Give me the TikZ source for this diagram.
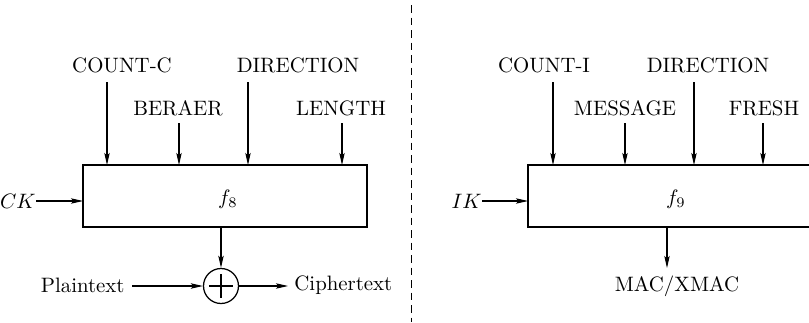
\documentclass[tikz,border=0pt]{standalone}
\usetikzlibrary{arrows.meta,calc}
\begin{document}
\begin{tikzpicture}[x=0.48pt,y=-0.48pt,
  blockbox/.style={draw,line width=1.1pt,minimum width=0pt},
  flow/.style={line width=0.5pt,-{Stealth[length=5.8pt,width=2.6pt,inset=1.2pt]}},
  lbl/.style={inner sep=0pt,font=\normalsize},
  divider/.style={line width=0.45pt,dash pattern=on 3.6pt off 2.4pt}]
\useasboundingbox (0,0) rectangle (809,323);
\clip (0,0) rectangle (809,323);

% ---- f8: confidentiality ----
\draw[blockbox] (83,165) rectangle (367,227);
\node[lbl] (f8) at (228,199) {$f_8$};

\node[lbl] (countc) at (122,65) {COUNT-C};
\node[lbl] (bearer) at (178,108) {BERAER};
\node[lbl] (dir8) at (298,65) {DIRECTION};
\node[lbl] (length) at (341,108) {LENGTH};

\coordinate (a1s) at (107,82);  \coordinate (a1e) at (107,165);
\coordinate (a2s) at (179,123); \coordinate (a2e) at (179,165);
\coordinate (a3s) at (248,82);  \coordinate (a3e) at (248,165);
\coordinate (a4s) at (342,123); \coordinate (a4e) at (342,165);
\draw[flow] (a1s) -- (a1e);
\draw[flow] (a2s) -- (a2e);
\draw[flow] (a3s) -- (a3e);
\draw[flow] (a4s) -- (a4e);

\node[lbl,anchor=east] (ck) at (36,201) {$CK$};
\coordinate (ckend) at (83,201);
\draw[flow] (ck.east) -- (ckend);

% keystream XOR
\node[draw,circle,line width=0.6pt,minimum size=35*0.48pt,inner sep=0pt] (xor) at (221,286) {};
\draw[line width=0.6pt] ($(xor.center)+(-12,0)$) -- ($(xor.center)+(12,0)$);
\draw[line width=0.6pt] ($(xor.center)+(0,-12)$) -- ($(xor.center)+(0,12)$);
\coordinate (ksout) at (221,227);
\draw[flow] (ksout) -- (xor.north);

\node[lbl,anchor=east] (plain) at (125,285) {Plaintext};
\node[lbl,anchor=west] (cipher) at (294,285) {Ciphertext};
\coordinate (plainend) at (132,286);
\coordinate (cipherstart) at (288,286);
\draw[flow] (plainend) -- (xor.west);
\draw[flow] (xor.east) -- (cipherstart);

% ---- separator ----
\coordinate (dtop) at (411,5);
\coordinate (dbot) at (411,322);
\draw[divider] (dtop) -- (dbot);

% ---- f9: integrity ----
\draw[blockbox] (528,165) rectangle (860,227);
\node[lbl] (f9) at (676,199) {$f_9$};

\node[lbl] (counti) at (544,65) {COUNT-I};
\node[lbl] (message) at (625,108) {MESSAGE};
\node[lbl] (dir9) at (708,65) {DIRECTION};
\node[lbl] (fresh) at (764,108) {FRESH};

\coordinate (b1s) at (553,82);  \coordinate (b1e) at (553,165);
\coordinate (b2s) at (625,123); \coordinate (b2e) at (625,165);
\coordinate (b3s) at (694,82);  \coordinate (b3e) at (694,165);
\coordinate (b4s) at (763,123); \coordinate (b4e) at (763,165);
\draw[flow] (b1s) -- (b1e);
\draw[flow] (b2s) -- (b2e);
\draw[flow] (b3s) -- (b3e);
\draw[flow] (b4s) -- (b4e);

\node[lbl,anchor=east] (ik) at (482,201) {$IK$};
\coordinate (ikend) at (528,201);
\draw[flow] (ik.east) -- (ikend);

\node[lbl] (mac) at (677,286) {MAC/XMAC};
\coordinate (macout) at (667,227);
\coordinate (macend) at (667,268);
\draw[flow] (macout) -- (macend);
\end{tikzpicture}
\end{document}
